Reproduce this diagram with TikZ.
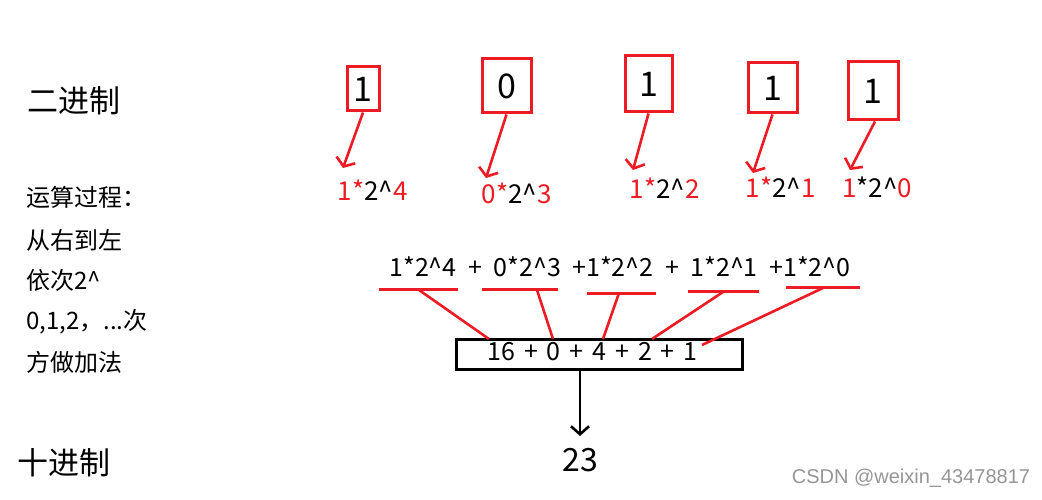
\documentclass[tikz,border=0pt]{standalone}
\usepackage{fontspec}
\setmainfont{Noto Sans CJK SC}
\newfontfamily\wmfont{Liberation Sans}
\usetikzlibrary{arrows.meta}
\definecolor{pred}{RGB}{237,28,36}
\definecolor{wm}{RGB}{150,150,150}
\newcommand\crt{\textasciicircum}
\newcommand\fs[1]{\fontsize{#1}{#1}\selectfont}
\newcommand\spA{\hspace{11.6pt}}
\newcommand\spB{\hspace{8.9pt}}
\tikzset{
  redbox/.style={draw=pred, line width=3pt, inner sep=0pt, font=\fs{34}},
  redarrow/.style={draw=pred, line width=2.6pt, -{Straight Barb[length=7pt,width=20pt,line width=2.6pt]}},
  redline/.style={draw=pred, line width=3pt},
  lbl/.style={inner sep=0pt, font=\fs{26}},
  lefttxt/.style={anchor=west, inner sep=0pt, font=\fs{24}},
  bigtxt/.style={inner sep=0pt, font=\fs{31}},
  midtxt/.style={inner sep=0pt, font=\fs{25}},
}
\begin{document}
\begin{tikzpicture}[x=1pt,y=-1pt]
\useasboundingbox[fill=white] (0,0) rectangle (1042,500);

% titles
\node[bigtxt] (bin) at (74,101) {二进制};
\node[bigtxt] (dec) at (64,463) {十进制};

% left explanation
\node[lefttxt] (e1) at (26,197) {运算过程：};
\node[lefttxt] (e2) at (26,240) {从右到左};
\node[lefttxt] (e3) at (26,280) {依次2\crt};
\node[lefttxt] (e4) at (26,322) {0,1,2，...次};
\node[lefttxt] (e5) at (26,362) {方做加法};

% binary digit boxes
\node[redbox, minimum width=32pt, minimum height=44pt] (b1) at (363,89) {1};
\node[redbox, minimum width=49pt, minimum height=54pt] (b2) at (506.5,86) {0};
\node[redbox, minimum width=47pt, minimum height=56pt] (b3) at (648.5,84) {1};
\node[redbox, minimum width=49pt, minimum height=50pt] (b4) at (772.5,88) {1};
\node[redbox, minimum width=50pt, minimum height=58pt] (b5) at (873,91) {1};

% term labels
\node[lbl] (l1) at (372.5,190) {\textcolor{pred}{1*}2\crt\textcolor{pred}{4}};
\node[lbl] (l2) at (516.5,193) {\textcolor{pred}{0*}2\crt\textcolor{pred}{3}};
\node[lbl] (l3) at (664.5,188) {\textcolor{pred}{1*}2\crt\textcolor{pred}{2}};
\node[lbl] (l4) at (780.5,187) {\textcolor{pred}{1*}2\crt\textcolor{pred}{1}};
\node[lbl] (l5) at (877,187) {\textcolor{pred}{1}*2\crt\textcolor{pred}{0}};

% arrow tips
\coordinate (t1) at (343,168);
\coordinate (t2) at (486,178);
\coordinate (t3) at (633,170);
\coordinate (t4) at (753,173);
\coordinate (t5) at (850,170);
\draw[redarrow] (b1.south) -- (t1);
\draw[redarrow] (b2.south) -- (t2);
\draw[redarrow] (b3.south) -- (t3);
\draw[redarrow] (b4.south) -- (t4);
\draw[redarrow] ([xshift=2pt]b5.south) -- (t5);

% sum expression
\node[midtxt] (sum) at (620,267) {1*2\crt4\spA+\spA0*2\crt3\spA+1*2\crt2\spA+\spA1*2\crt1\spA+1*2\crt0};

% underlines
\coordinate (u1a) at (379,289); \coordinate (u1b) at (458,289); \coordinate (u1m) at (419,290);
\coordinate (u2a) at (482,289); \coordinate (u2b) at (558,289); \coordinate (u2m) at (537,290);
\coordinate (u3a) at (587,293); \coordinate (u3b) at (656,293); \coordinate (u3m) at (619,293);
\coordinate (u4a) at (688,291); \coordinate (u4b) at (759,291); \coordinate (u4m) at (723,292);
\coordinate (u5a) at (786,287); \coordinate (u5b) at (860,287); \coordinate (u5m) at (823,288);
\draw[redline] (u1a) -- (u1b);
\draw[redline] (u2a) -- (u2b);
\draw[redline] (u3a) -- (u3b);
\draw[redline] (u4a) -- (u4b);
\draw[redline] (u5a) -- (u5b);

% result box
\node[draw=black, line width=3pt, minimum width=286pt, minimum height=30pt, inner sep=0pt] (box) at (599,354) {};
\node[midtxt] (boxtxt) at (592.5,352) {16\spB+\spB0\spB+\spB4\spB+\spB2\spB+\spB1};

% connecting red lines
\coordinate (c1) at (489,339);
\coordinate (c2) at (553,339);
\coordinate (c3) at (603,339);
\coordinate (c4) at (652,339);
\coordinate (c5) at (702,345);
\draw[redline, line width=2.6pt] (u1m) -- (c1);
\draw[redline, line width=2.6pt] (u2m) -- (c2);
\draw[redline, line width=2.6pt] (u3m) -- (c3);
\draw[redline, line width=2.6pt] (u4m) -- (c4);
\draw[redline, line width=2.6pt] (u5m) -- (c5);

% result
\coordinate (bs) at (580,369);
\node[inner sep=0pt, font=\fs{32}] (res) at (580,460) {23};
\coordinate (rt) at (580,436);
\draw[line width=2.6pt, -{Straight Barb[length=8pt,width=18pt,line width=2.6pt]}] (bs) -- (rt);

% watermark
\node[inner sep=0pt, font=\wmfont\fs{20}, text=wm] (wmk) at (911,478) {CSDN @weixin\_43478817};
\end{tikzpicture}
\end{document}
